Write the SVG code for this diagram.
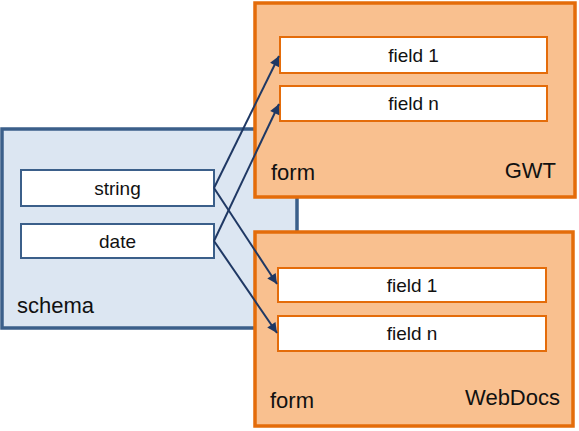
<svg xmlns="http://www.w3.org/2000/svg" width="579" height="431" viewBox="0 0 579 431">
<style>
.schema{fill:#dce6f2;stroke:#3b5f8a;stroke-width:3.5}
.item{fill:#ffffff;stroke:#3b5f8a;stroke-width:2}
.form{fill:#f9c08f;stroke:#e46c0a;stroke-width:3.5}
.field{fill:#ffffff;stroke:#e46c0a;stroke-width:2}
text{font-family:"Liberation Sans",Arial,sans-serif;fill:#111}
.t{font-size:19px;text-anchor:middle}
.lbl{font-size:22px}
.conn{fill:none;stroke:#1f3864;stroke-width:2;marker-end:url(#ah)}
</style>
<defs>
<marker id="ah" viewBox="0 0 10 10" refX="10" refY="5" markerWidth="6" markerHeight="5" markerUnits="strokeWidth" orient="auto">
<path d="M0,0 L10,5 L0,10 z" fill="#1f3864"/>
</marker>
</defs>
<g id="schema">
<rect class="schema" x="2" y="129" width="295" height="199"/>
<text class="lbl" x="17" y="313">schema</text>
</g>
<g id="string">
<rect class="item" x="21" y="170" width="193" height="36"/>
<text class="t" x="117.5" y="195">string</text>
</g>
<g id="date">
<rect class="item" x="21" y="224" width="193" height="34"/>
<text class="t" x="117.5" y="248">date</text>
</g>
<g id="formGWT">
<rect class="form" x="255" y="3" width="320" height="194"/>
<text class="lbl" x="271" y="180">form</text>
<text class="lbl" x="556" y="178" text-anchor="end">GWT</text>
</g>
<g id="gwtField1">
<rect class="field" x="280" y="37" width="267" height="36"/>
<text class="t" x="413.5" y="62">field 1</text>
</g>
<g id="gwtFieldN">
<rect class="field" x="280" y="86" width="267" height="35"/>
<text class="t" x="413.5" y="110">field n</text>
</g>
<g id="formWebDocs">
<rect class="form" x="255" y="232" width="318" height="194"/>
<text class="lbl" x="270" y="408">form</text>
<text class="lbl" x="560" y="405" text-anchor="end">WebDocs</text>
</g>
<g id="wdField1">
<rect class="field" x="278" y="268" width="268" height="34"/>
<text class="t" x="412" y="292">field 1</text>
</g>
<g id="wdFieldN">
<rect class="field" x="278" y="316" width="268" height="35"/>
<text class="t" x="412" y="340">field n</text>
</g>
<g id="connectors">
<path class="conn" d="M214,188 L279,56"/>
<path class="conn" d="M214,241 L279,104"/>
<path class="conn" d="M214,188 L277,284"/>
<path class="conn" d="M214,241 L277,333"/>
</g>
</svg>
